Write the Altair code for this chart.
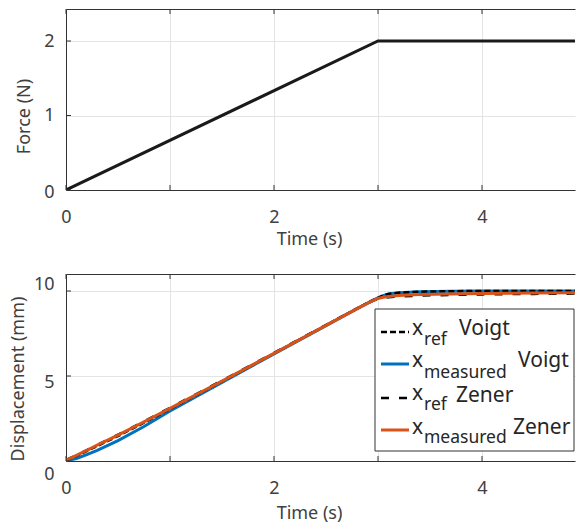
import altair as alt
import pandas as pd

# ---------------- data ----------------
force_time = [0.0, 3.0, 5.5]
force_value = [0.0, 2.0, 2.0]

disp_time = [0, 0.1, 0.2, 0.3, 0.5, 0.75, 1.0, 1.5, 2.0, 2.5, 2.8, 2.95,
             3.0, 3.05, 3.1, 3.2, 3.4, 3.7, 4.0, 4.5, 5.0, 5.5]
voigt_ref = [0.05, 0.30, 0.58, 0.88, 1.47, 2.25, 3.06, 4.68, 6.33, 7.99, 8.98, 9.46,
             9.60, 9.74, 9.83, 9.90, 9.96, 9.99, 10.0, 10.0, 10.0, 10.0]
voigt_meas = [0.0, 0.15, 0.37, 0.62, 1.20, 2.03, 2.95, 4.62, 6.30, 7.96, 8.96, 9.45,
              9.60, 9.73, 9.82, 9.90, 9.96, 9.99, 10.0, 10.0, 10.0, 10.0]
zener_ref = [0.05, 0.34, 0.64, 0.95, 1.55, 2.33, 3.13, 4.73, 6.36, 8.0, 8.97, 9.42,
             9.53, 9.59, 9.63, 9.68, 9.73, 9.77, 9.80, 9.83, 9.85, 9.86]
zener_meas = [0.05, 0.33, 0.63, 0.93, 1.52, 2.30, 3.10, 4.70, 6.33, 7.98, 8.96, 9.43,
              9.56, 9.63, 9.68, 9.74, 9.79, 9.83, 9.86, 9.88, 9.90, 9.90]

x_ticks = [0, 1, 2, 3, 4]
force_ticks = [0, 1, 2]
disp_ticks = [0, 5, 10]

legend_main = ["x", "x", "x", "x"]
legend_subs = ["ref", "measured", "ref", "measured"]
legend_models = ["Voigt", "Voigt", "Zener", "Zener"]

# ---------------- styling ----------------
FONT = "Noto Sans"
TEXT = "#404040"
AX = "#333333"
GRID = "#e4e4e4"
TICK = 5
W = 509
PX_PER_S = 104.0
XMAX = W / PX_PER_S

xscale = alt.Scale(domain=[0, XMAX], nice=False, zero=False)

force_df = pd.DataFrame({"t": force_time, "f": force_value})
disp_df = {
    "vr": pd.DataFrame({"t": disp_time, "d": voigt_ref}),
    "vm": pd.DataFrame({"t": disp_time, "d": voigt_meas}),
    "zr": pd.DataFrame({"t": disp_time, "d": zener_ref}),
    "zm": pd.DataFrame({"t": disp_time, "d": zener_meas}),
}
xtick_df = pd.DataFrame({"v": x_ticks})


def x_bottom(title_y):
    return alt.Axis(values=x_ticks, labelExpr="datum.value % 2 == 0 ? datum.label : ''",
                    title="Time (s)", titleX=243, titleY=title_y, titleBaseline="middle",
                    grid=True, gridColor=GRID, domainColor=AX, ticks=False, tickSize=0,
                    labelPadding=18, labelFlush=False, labelOverlap=False,
                    labelFontSize=18, titleFontSize=18, labelColor=TEXT, titleColor=TEXT,
                    labelFont=FONT, titleFont=FONT, titleFontWeight="normal")


x_top = alt.Axis(orient="top", values=x_ticks, labels=False, ticks=False, tickSize=0,
                 title=None, grid=False, domainColor=AX)


def y_left(title, values, tx, ty, offset):
    return alt.Axis(values=values, title=title, titleX=tx, titleY=ty, titleBaseline="middle",
                    grid=True, gridColor=GRID, domainColor=AX, ticks=False, tickSize=0,
                    labelPadding=12, labelOffset=offset,
                    labelFontSize=18, titleFontSize=18, labelColor=TEXT, titleColor=TEXT,
                    labelFont=FONT, titleFont=FONT, titleFontWeight="normal")


def tick_layers(yscale, yaxis, yvalues, height):
    """Inward ticks (MATLAB style) drawn through the panel's own scales."""
    ydf = pd.DataFrame({"w": yvalues})
    y_t = alt.Chart(ydf).mark_rule(color=AX, strokeWidth=1).encode(
        y=alt.Y("w:Q", scale=yscale, axis=yaxis), x=alt.value(0), x2=alt.value(TICK))
    x_b = alt.Chart(xtick_df).mark_rule(color=AX, strokeWidth=1).encode(
        x=alt.X("v:Q", scale=xscale, axis=None), y=alt.value(height), y2=alt.value(height - TICK))
    x_t = alt.Chart(xtick_df).mark_rule(color=AX, strokeWidth=1).encode(
        x=alt.X("v:Q", scale=xscale, axis=x_top), y=alt.value(0), y2=alt.value(TICK))
    return [y_t, x_b, x_t]


# ---------------- top panel ----------------
FH = 181
fscale = alt.Scale(domain=[0, FH / 74.5], nice=False, zero=False)
faxis = y_left("Force (N)", force_ticks, -42, 107,
               {"condition": {"test": "datum.value == 0", "value": 2}, "value": 0})
fy = alt.Y("f:Q", scale=fscale, axis=faxis)

force_line = alt.Chart(force_df).mark_line(color="#1a1a1a", strokeWidth=3, clip=True).encode(
    x=alt.X("t:Q", scale=xscale, axis=x_bottom(49)), y=fy)

top = alt.layer(force_line, *tick_layers(fscale, faxis, force_ticks, FH)).resolve_axis(
    x="independent").properties(width=W, height=FH)

# ---------------- bottom panel ----------------
DH = 187
dscale = alt.Scale(domain=[0, DH / 17.0], nice=False, zero=False)
daxis = y_left("Displacement (mm)", disp_ticks, -48, 104.5,
               {"condition": [{"test": "datum.value == 10", "value": -7},
                              {"test": "datum.value == 5", "value": 6}],
                "value": 13})
dy = alt.Y("d:Q", scale=dscale, axis=daxis)

styles = {
    "vm": dict(color="#0072BD", strokeWidth=3),
    "vr": dict(color="#000000", strokeWidth=2.5, strokeDash=[6, 3]),
    "zr": dict(color="#000000", strokeWidth=2.5, strokeDash=[8, 10]),
    "zm": dict(color="#D95319", strokeWidth=3),
}
layers = []
for i, key in enumerate(["vm", "vr", "zr", "zm"]):
    xenc = alt.X("t:Q", scale=xscale, axis=x_bottom(52.5)) if i == 0 else alt.X(
        "t:Q", scale=xscale, axis=None)
    layers.append(alt.Chart(disp_df[key]).mark_line(clip=True, **styles[key]).encode(x=xenc, y=dy))
layers += tick_layers(dscale, daxis, disp_ticks, DH)

# legend (pixel layout inside the plot area)
leg_df = pd.DataFrame({"main": legend_main, "sub": legend_subs, "model": legend_models})
layers.append(alt.Chart(leg_df.iloc[[0]]).mark_rect(fill="white", stroke="#333333", strokeWidth=1).encode(
    x=alt.value(309), x2=alt.value(508), y=alt.value(35), y2=alt.value(177)))

LEG_MAIN = 21
LEG_SUB = 17.5
row_sym_y = [58, 90, 124, 156]
row_main_y = [55, 87, 120, 154]
row_sub_y = [66, 99, 131, 164]
row_model_x = [393, 452, 390, 447]
row_model_y = [55, 87, 122, 154]
sym_style = [styles["vr"], styles["vm"], styles["zr"], styles["zm"]]
for r in range(4):
    d = leg_df.iloc[[r]]
    st = dict(sym_style[r])
    layers.append(alt.Chart(d).mark_rule(**st).encode(
        x=alt.value(315), x2=alt.value(343), y=alt.value(row_sym_y[r])))
    layers.append(alt.Chart(d).mark_text(align="left", baseline="middle", font=FONT, fontSize=LEG_MAIN,
                                         color="#262626").encode(
        x=alt.value(346), y=alt.value(row_main_y[r]), text="main:N"))
    layers.append(alt.Chart(d).mark_text(align="left", baseline="middle", font=FONT, fontSize=LEG_SUB,
                                         color="#262626").encode(
        x=alt.value(358), y=alt.value(row_sub_y[r]), text="sub:N"))
    layers.append(alt.Chart(d).mark_text(align="left", baseline="middle", font=FONT, fontSize=LEG_MAIN,
                                         color="#262626").encode(
        x=alt.value(row_model_x[r]), y=alt.value(row_model_y[r]), text="model:N"))

bottom = alt.layer(*layers).resolve_axis(x="independent").properties(width=W, height=DH)

chart = alt.vconcat(top, bottom, spacing=84, bounds="flush").properties(
    padding={"left": 0, "top": 0, "right": 0, "bottom": 0}
).configure_view(stroke="transparent")

chart.save("out.html", embed_options={"renderer": "svg", "actions": False})
